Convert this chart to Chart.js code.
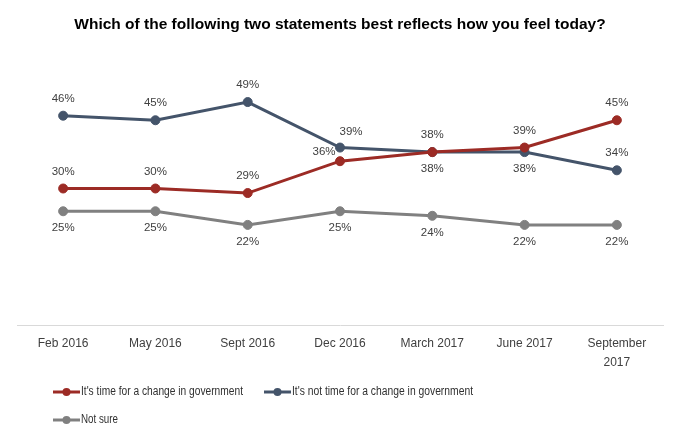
<!DOCTYPE html>
<html>
<head>
<meta charset="utf-8">
<script src="https://cdn.jsdelivr.net/npm/chart.js@4/dist/chart.umd.min.js"></script>
<style>
  html, body { margin: 0; padding: 0; background: #ffffff; }
  #wrap { width: 680px; height: 441px; position: relative; }
</style>
</head>
<body>
<div id="wrap"><canvas id="c" width="680" height="441"></canvas></div>
<script>
// ---- data ----
const categories = ['Feb 2016', 'May 2016', 'Sept 2016', 'Dec 2016', 'March 2017', 'June 2017', ['September', '2017']];
const timeForChange = [30, 30, 29, 36, 38, 39, 45];
const notTimeForChange = [46, 45, 49, 39, 38, 38, 34];
const notSure = [25, 25, 22, 25, 24, 22, 22];
const seriesNames = ["It's time for a change in government", "It's not time for a change in government", 'Not sure'];
const titleText = 'Which of the following two statements best reflects how you feel today?';

// label placement per point (style only)
const placeRed = ['above', 'above', 'above', 'leftAbove', 'below', 'above', 'above'];
const placeBlue = ['above', 'above', 'above', 'rightAbove', 'above', 'below', 'above'];
const placeGray = ['below', 'below', 'below', 'below', 'below', 'below', 'below'];

const RED = '#9c2b25', BLUE = '#44546a', GRAY = '#808080';
const FONT = "'Liberation Sans', Arial, sans-serif";

const labelPlugin = {
  id: 'pointLabels',
  afterDatasetsDraw(chart) {
    const ctx = chart.ctx;
    const places = [placeRed, placeBlue, placeGray];
    ctx.save();
    ctx.font = '11.5px ' + FONT;
    ctx.fillStyle = '#404040';
    ctx.textAlign = 'center';
    ctx.textBaseline = 'middle';
    chart.data.datasets.forEach((ds, di) => {
      const meta = chart.getDatasetMeta(di);
      meta.data.forEach((pt, i) => {
        const p = places[di][i];
        let x = pt.x, y = pt.y;
        if (p === 'above') y -= 17;
        else if (p === 'below') y += 17;
        else if (p === 'leftAbove') { x -= 16; y -= 9; }
        else if (p === 'rightAbove') { x += 11; y -= 16; }
        ctx.fillText(ds.data[i] + '%', x, y);
      });
    });
    ctx.restore();
  }
};

const legendPlugin = {
  id: 'customLegend',
  afterDraw(chart) {
    const ctx = chart.ctx;
    const items = [
      { name: seriesNames[0], color: RED, x: 53, y: 392, w: 162 },
      { name: seriesNames[1], color: BLUE, x: 264, y: 392, w: 181 },
      { name: seriesNames[2], color: GRAY, x: 53, y: 420, w: 37 }
    ];
    ctx.save();
    items.forEach(it => {
      ctx.strokeStyle = it.color;
      ctx.lineWidth = 3;
      ctx.beginPath();
      ctx.moveTo(it.x, it.y);
      ctx.lineTo(it.x + 27, it.y);
      ctx.stroke();
      ctx.fillStyle = it.color;
      ctx.beginPath();
      ctx.arc(it.x + 13.5, it.y, 4, 0, Math.PI * 2);
      ctx.fill();
      ctx.fillStyle = '#303030';
      ctx.font = '12.5px ' + FONT;
      ctx.textAlign = 'left';
      ctx.textBaseline = 'middle';
      ctx.fillText(it.name, it.x + 28, it.y, it.w);
    });
    ctx.restore();
  }
};

function ds(label, data, color) {
  return {
    label, data,
    borderColor: color,
    backgroundColor: color,
    borderWidth: 3,
    pointRadius: 4.5,
    pointHoverRadius: 4.5,
    pointBackgroundColor: color,
    pointBorderColor: color,
    pointBorderWidth: 1,
    tension: 0,
    fill: false
  };
}

new Chart(document.getElementById('c'), {
  type: 'line',
  data: {
    labels: categories,
    datasets: [
      ds(seriesNames[0], timeForChange, RED),
      ds(seriesNames[1], notTimeForChange, BLUE),
      ds(seriesNames[2], notSure, GRAY)
    ]
  },
  options: {
    responsive: false,
    animation: false,
    devicePixelRatio: 1,
    layout: { padding: { left: 17, right: 17, top: 0, bottom: 0 } },
    plugins: {
      legend: { display: false },
      tooltip: { enabled: false },
      title: {
        display: true,
        text: titleText,
        color: '#000000',
        font: { family: FONT, size: 15.5, weight: 'bold', lineHeight: 1.2 },
        padding: { top: 15.7, bottom: 17.7 }
      }
    },
    scales: {
      x: {
        offset: true,
        grid: { display: false, drawTicks: false },
        border: { display: true, color: '#d9d9d9', width: 1 },
        ticks: {
          color: '#404040',
          font: { family: FONT, size: 12, lineHeight: 1.6 },
          padding: 9,
          maxRotation: 0,
          autoSkip: false
        },
        afterFit(scale) { scale.height = 116; }
      },
      y: {
        display: false,
        min: 0,
        max: 60
      }
    }
  },
  plugins: [labelPlugin, legendPlugin]
});
</script>
</body>
</html>
